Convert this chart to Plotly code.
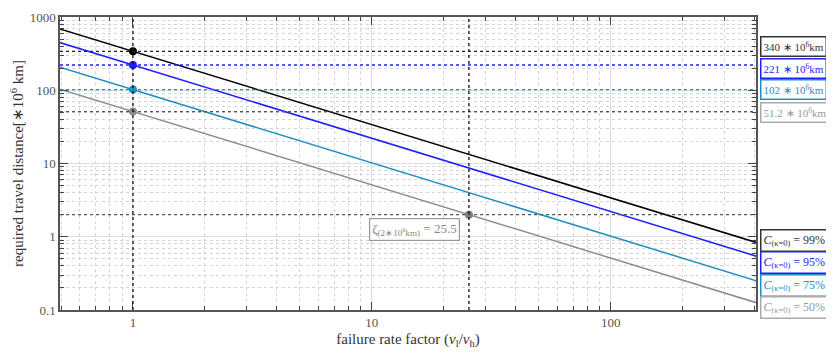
import math
import plotly.graph_objects as go

# ---- data ----
x_ends = [0.49, 1, 410]
black_y = [693.9, 340, 0.829]
blue_y = [451.0, 221, 0.539]
teal_y = [208.2, 102, 0.2488]
gray_y = [104.5, 51.2, 0.1249]

ref_values = [340, 221, 102, 51.2]
ref_labels = ["340 ∗ 10<sup>6</sup>km", "221 ∗ 10<sup>6</sup>km",
              "102 ∗ 10<sup>6</sup>km", "51.2 ∗ 10<sup>6</sup>km"]
conf_labels = ["99%", "95%", "75%", "50%"]

zeta_x = 25.5
zeta_y = 2

y_tickvals = [0.1, 1, 10, 100, 1000]
y_ticktext = ["0.1", "1", "10", "100", "1000"]
x_tickvals = [1, 10, 100]
x_ticktext = ["1", "10", "100"]

# ---- styles ----
colors = ["#000000", "#1f1fff", "#1f8fc0", "#8c8c8c"]
ref_line_colors = ["#222222", "#1f1fff", "#1f8fc0", "#555555"]
box_border = ["#333333", "#1f1fff", "#1f8fc0", "#aaaaaa"]
box_text = ["#333333", "#1f1fff", "#1f8fc0", "#999999"]
FONT = "Liberation Serif"

fig = go.Figure()

series = [black_y, blue_y, teal_y, gray_y]
for ys, c in zip(series, colors):
    fig.add_trace(go.Scatter(x=x_ends, y=ys, mode="lines",
                             line=dict(color=c, width=1.5), showlegend=False))

# horizontal dotted reference lines
for v, c in zip(ref_values, ref_line_colors):
    fig.add_shape(type="line", xref="x domain", yref="y", x0=0, x1=1, y0=v, y1=v,
                  line=dict(color=c, width=1.3, dash="dot"))
fig.add_shape(type="line", xref="x domain", yref="y", x0=0, x1=1, y0=zeta_y, y1=zeta_y,
              line=dict(color="#555555", width=1.3, dash="dot"))
# vertical dotted reference lines
for xv in [1, zeta_x]:
    fig.add_shape(type="line", xref="x", yref="y domain", x0=xv, x1=xv, y0=0, y1=1,
                  line=dict(color="#111111", width=1.3, dash="dot"))

# markers
fig.add_trace(go.Scatter(x=[1] * 4, y=ref_values, mode="markers",
                         marker=dict(color=colors, size=8), showlegend=False))
fig.add_trace(go.Scatter(x=[zeta_x], y=[zeta_y], mode="markers",
                         marker=dict(color="#808080", size=8), showlegend=False))

# right-side value boxes (annotation coords on log axes are log10)
shifts = [5, -3, 0, -1]
for v, lab, bc, tc, s in zip(ref_values, ref_labels, box_border, box_text, shifts):
    fig.add_annotation(x=1.006, xref="paper", y=math.log10(v), yref="y", yshift=s,
                       text=lab, showarrow=False, xanchor="left", yanchor="middle",
                       font=dict(family=FONT, size=11, color=tc),
                       bordercolor=bc, borderwidth=1.5, borderpad=2, bgcolor="white")

conf_pos = [0.2355, 0.162, 0.0853, 0.0102]
for p, lab, bc, tc in zip(conf_pos, conf_labels, box_border, box_text):
    fig.add_annotation(x=1.006, xref="paper", y=p, yref="paper",
                       text="<i>C</i><sub>(κ=0)</sub> = " + lab,
                       showarrow=False, xanchor="left", yanchor="middle",
                       font=dict(family=FONT, size=12, color=tc),
                       bordercolor=bc, borderwidth=1.5, borderpad=2, bgcolor="white")

# zeta annotation
fig.add_annotation(x=math.log10(zeta_x), y=math.log10(zeta_y), xref="x", yref="y",
                   xshift=-54, yshift=-15,
                   text="ζ<sub>(2∗10<sup>6</sup>km)</sub> = 25.5", showarrow=False,
                   font=dict(family=FONT, size=13, color="#888888"),
                   bordercolor="#999999", borderwidth=1.2, borderpad=2, bgcolor="white")

axis_common = dict(type="log", showline=True, linecolor="#555555", linewidth=1.5,
                   mirror="ticks", ticks="inside", ticklen=8, tickwidth=1.2,
                   tickcolor="#444444", showgrid=True, gridcolor="#dddddd", gridwidth=1,
                   zeroline=False, automargin=False,
                   tickfont=dict(family=FONT, size=13, color="#555555"))

minor_vals = []
for d in [0.1, 1, 10, 100]:
    for k in range(2, 10):
        minor_vals.append(round(k * d, 6))

fig.update_xaxes(**axis_common, range=[-0.3054, 2.6085],
                 tickvals=x_tickvals, ticktext=x_ticktext,
                 minor=dict(tickvals=minor_vals, ticks="inside", ticklen=4,
                            tickcolor="#444444", showgrid=True, gridcolor="#d4d4d4",
                            griddash="dot", gridwidth=1),
                 title=dict(text="failure rate factor (<i>ν</i><sub>l</sub>/<i>ν</i><sub>h</sub>)",
                            font=dict(family=FONT, size=15, color="#333333"), standoff=4))
fig.update_yaxes(**axis_common, range=[-1, 3],
                 tickvals=y_tickvals, ticktext=y_ticktext,
                 minor=dict(tickvals=minor_vals, ticks="inside", ticklen=4,
                            tickcolor="#444444", showgrid=True, gridcolor="#d4d4d4",
                            griddash="dot", gridwidth=1),
                 title=dict(text="required travel distance[∗10<sup>6</sup> km]",
                            font=dict(family=FONT, size=15, color="#333333"), standoff=4))

# page body has an 8px margin, so the plot area is offset accordingly
fig.update_layout(width=834, height=354, plot_bgcolor="white", paper_bgcolor="white",
                  margin=dict(l=52, r=86, t=9, b=52), showlegend=False)

fig.write_html("out.html")
